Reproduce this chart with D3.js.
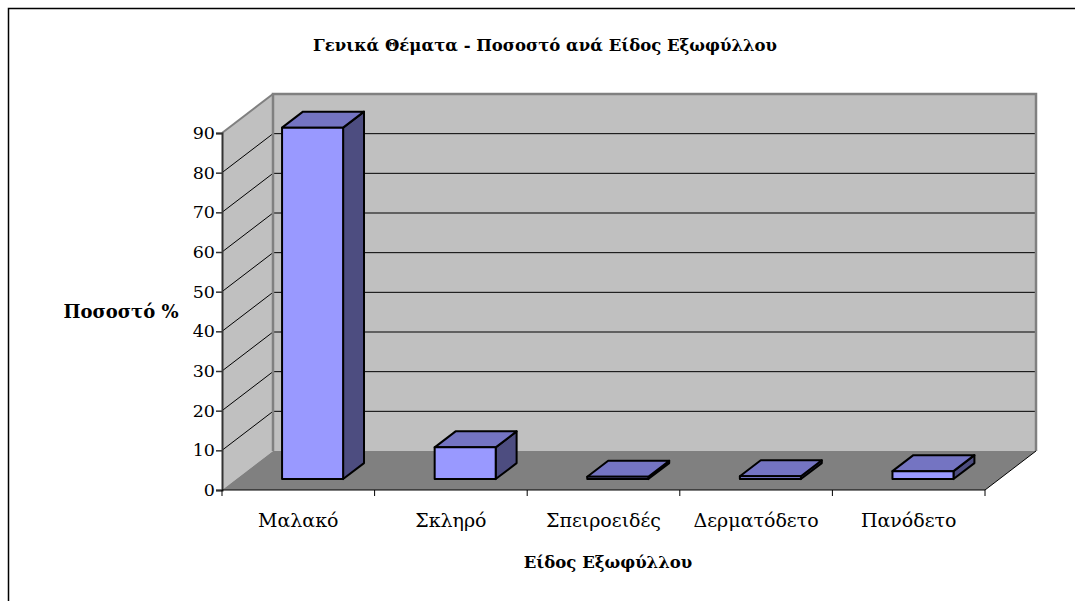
<!DOCTYPE html>
<html>
<head>
	<title>Γενικά Θέματα</title>
	<meta charset='utf-8'>
	<style>
		body { margin: 0; background: #fff; }
		text { font-family: 'DejaVu Serif', serif; fill: #000; }
		.tick-label { font-size: 17.5px; }
		.cat-label { font-size: 19px; }
		.axis-title { font-size: 16.5px; font-weight: bold; }
		.chart-title { font-size: 16.5px; font-weight: bold; }
		.face { stroke: #000; stroke-width: 2px; stroke-linejoin: round; }
		.front { fill: #9999ff; }
		.top { fill: #7474c2; }
		.side { fill: #4d4d80; }
	</style>
</head>
<body>
<div id="chart"></div>
<script src='https://d3js.org/d3.v7.min.js'></script>
<script>
	'use strict';

	const categories = ['Μαλακό', 'Σκληρό', 'Σπειροειδές', 'Δερματόδετο', 'Πανόδετο'];
	const values = [88.6, 8.0, 0.6, 0.7, 2.0];
	const yTicks = [0, 10, 20, 30, 40, 50, 60, 70, 80, 90];

	const W = 1075, H = 601;
	// front plane of the 3d box
	const plotLeft = 222, plotRight = 985, plotBottom = 490, plotTop = 133;
	// depth offset of the back wall
	const depthX = 51, depthY = -39;

	const svg = d3.select('#chart').append('svg')
		.attr('width', W)
		.attr('height', H);

	const xScale = d3.scaleBand().domain(categories).range([plotLeft, plotRight]);
	const yScale = d3.scaleLinear().domain([0, 90]).range([plotBottom, plotTop]);
	const zScale = d3.scaleLinear().domain([0, 1]).range([0, 1]);

	// точка с учётом глубины
	function pt(x, y, z) {
		return [x + depthX * zScale(z), y + depthY * zScale(z)];
	}
	function poly(points) {
		return points.map(p => p.join(',')).join(' ');
	}

	// рамка
	svg.append('rect')
		.attr('x', 8.5).attr('y', 8.5)
		.attr('width', W + 10).attr('height', H + 10)
		.attr('fill', 'none').attr('stroke', '#000').attr('stroke-width', 1.5);

	// задняя стенка
	svg.append('polygon')
		.attr('points', poly([pt(plotLeft, plotTop, 1), pt(plotRight, plotTop, 1), pt(plotRight, plotBottom, 1), pt(plotLeft, plotBottom, 1)]))
		.attr('fill', '#c0c0c0');
	// боковая стенка
	svg.append('polygon')
		.attr('points', poly([pt(plotLeft, plotTop, 0), pt(plotLeft, plotTop, 1), pt(plotLeft, plotBottom, 1), pt(plotLeft, plotBottom, 0)]))
		.attr('fill', '#c0c0c0');
	// пол
	svg.append('polygon')
		.attr('points', poly([pt(plotLeft, plotBottom, 0), pt(plotLeft, plotBottom, 1), pt(plotRight, plotBottom, 1), pt(plotRight, plotBottom, 0)]))
		.attr('fill', '#808080');

	// линии сетки
	const grid = svg.append('g');
	yTicks.filter(v => v > 0 && v < 90).forEach(v => {
		const a = pt(plotLeft, yScale(v), 1), b = pt(plotRight, yScale(v), 1);
		grid.append('line')
			.attr('x1', a[0]).attr('y1', a[1]).attr('x2', b[0]).attr('y2', b[1])
			.attr('stroke', '#000').attr('stroke-width', 1);
	});
	yTicks.filter(v => v > 0).forEach(v => {
		const a = pt(plotLeft, yScale(v), 0), b = pt(plotLeft, yScale(v), 1);
		grid.append('line')
			.attr('x1', a[0]).attr('y1', a[1]).attr('x2', b[0]).attr('y2', b[1])
			.attr('stroke', v === 90 ? '#808080' : '#000')
			.attr('stroke-width', v === 90 ? 2 : 1);
	});

	// серые края стенок
	const edge = pt(plotLeft, plotTop, 1), edgeR = pt(plotRight, plotTop, 1),
		edgeB = pt(plotRight, plotBottom, 1), edgeL = pt(plotLeft, plotBottom, 1);
	svg.append('polyline')
		.attr('points', poly([edgeL, edge, edgeR, edgeB]))
		.attr('fill', 'none').attr('stroke', '#808080').attr('stroke-width', 2.5);

	// край пола справа
	const fr0 = pt(plotRight, plotBottom, 0), fr1 = pt(plotRight, plotBottom, 1);
	svg.append('line')
		.attr('x1', fr0[0]).attr('y1', fr0[1]).attr('x2', fr1[0]).attr('y2', fr1[1])
		.attr('stroke', '#000').attr('stroke-width', 1);

	// ось Y
	const yAxis = d3.axisLeft(yScale).tickValues(yTicks).tickSize(6).tickPadding(1);
	const gy = svg.append('g')
		.attr('transform', 'translate(' + plotLeft + ',0)')
		.call(yAxis);
	gy.select('.domain').attr('stroke', '#333').attr('stroke-width', 2);
	gy.selectAll('.tick line').attr('stroke', '#333').attr('stroke-width', 1.5);
	gy.selectAll('.tick text').attr('class', 'tick-label');
	gy.attr('font-family', null).attr('font-size', null);

	// ось X
	svg.append('line')
		.attr('x1', plotLeft).attr('y1', plotBottom).attr('x2', plotRight).attr('y2', plotBottom)
		.attr('stroke', '#000').attr('stroke-width', 1);
	const bounds = categories.map(c => xScale(c)).concat([plotRight]);
	svg.selectAll('.xtick').data(bounds).enter().append('line')
		.attr('x1', d => d).attr('x2', d => d)
		.attr('y1', plotBottom).attr('y2', plotBottom + 6)
		.attr('stroke', '#000').attr('stroke-width', 1);
	svg.selectAll('.cat-label').data(categories).enter().append('text')
		.attr('class', 'cat-label')
		.attr('x', d => xScale(d) + xScale.bandwidth() / 2)
		.attr('y', 527)
		.attr('text-anchor', 'middle')
		.text(d => d);

	// столбики
	const z0 = 0.28, z1 = 0.69;
	const barW = xScale.bandwidth() / 2.5;
	const bars = svg.append('g');
	categories.forEach((c, i) => {
		const x0 = xScale(c) + (xScale.bandwidth() - barW) / 2;
		const x1 = x0 + barW;
		const yt = yScale(values[i]), yb = yScale(0);
		const g = bars.append('g');
		g.append('polygon').attr('class', 'face side')
			.attr('points', poly([pt(x1, yt, z0), pt(x1, yt, z1), pt(x1, yb, z1), pt(x1, yb, z0)]));
		g.append('polygon').attr('class', 'face top')
			.attr('points', poly([pt(x0, yt, z0), pt(x0, yt, z1), pt(x1, yt, z1), pt(x1, yt, z0)]));
		g.append('polygon').attr('class', 'face front')
			.attr('points', poly([pt(x0, yt, z0), pt(x1, yt, z0), pt(x1, yb, z0), pt(x0, yb, z0)]));
	});

	// подписи
	svg.append('text').attr('class', 'chart-title')
		.attr('x', 545).attr('y', 51).attr('text-anchor', 'middle')
		.text('Γενικά Θέματα - Ποσοστό ανά Είδος Εξωφύλλου');
	svg.append('text').attr('class', 'axis-title')
		.attr('x', 121).attr('y', 318).attr('text-anchor', 'middle')
		.style('font-size', '18px')
		.text('Ποσοστό %');
	svg.append('text').attr('class', 'axis-title')
		.attr('x', 608).attr('y', 568).attr('text-anchor', 'middle')
		.text('Είδος Εξωφύλλου');
</script>
</body>
</html>
